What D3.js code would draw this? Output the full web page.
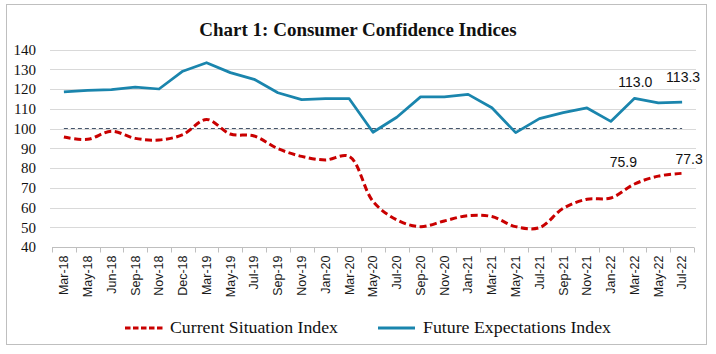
<!DOCTYPE html>
<html>
<head>
<meta charset="utf-8">
<script src="https://cdn.jsdelivr.net/npm/d3@7"></script>
<style>
  body { margin: 0; background: #fff; }
</style>
</head>
<body>
<div id="chart"></div>
<script>
//
// Chart data
//
const categories = ['Mar-18', 'May-18', 'Jun-18', 'Sep-18', 'Nov-18', 'Dec-18', 'Mar-19', 'May-19', 'Jul-19',
  'Sep-19', 'Nov-19', 'Jan-20', 'Mar-20', 'May-20', 'Jul-20', 'Sep-20', 'Nov-20', 'Jan-21', 'Mar-21',
  'May-21', 'Jul-21', 'Sep-21', 'Nov-21', 'Jan-22', 'Mar-22', 'May-22', 'Jul-22']
const currentSituation = [95.7, 94.5, 98.6, 95.0, 94.2, 96.9, 104.6, 97.2, 96.2, 89.8, 85.9, 84.1, 85.9,
  63.1, 53.7, 50.3, 53.2, 55.9, 55.4, 50.3, 49.8, 59.6, 64.2, 64.8, 71.9, 75.9, 77.3]
const futureExpectations = [118.6, 119.3, 119.7, 121.0, 120.0, 129.0, 133.3, 128.3, 124.9, 118.1, 114.6, 115.1, 115.1,
  98.1, 105.7, 116.0, 116.0, 117.3, 110.5, 97.9, 105.0, 108.0, 110.4, 103.6, 115.3, 113.0, 113.3]
const yTicks = [40, 50, 60, 70, 80, 90, 100, 110, 120, 130, 140]
const referenceLevel = 100
// labelled points and where their label sits relative to the point
const labelledPoints = [
  { series: 'fei', cat: 'May-22', dx: -23, dy: -16 },
  { series: 'fei', cat: 'Jul-22', dx: 1, dy: -20.5 },
  { series: 'csi', cat: 'May-22', dx: -35, dy: -9.5 },
  { series: 'csi', cat: 'Jul-22', dx: 7, dy: -9 }
]

const width = 716
const height = 354
const serif = "'Liberation Serif', 'DejaVu Serif', serif"
const sans = "'Liberation Sans', Arial, sans-serif"
const red = '#c90000'
const blue = '#1a85ad'

const svg = d3.select('#chart')
  .append('svg')
  .attr('width', width)
  .attr('height', height)

// chart border
svg.append('rect')
  .attr('x', 6.5).attr('y', 4.5)
  .attr('width', 700).attr('height', 340)
  .attr('fill', '#fff')
  .attr('stroke', '#bfbfbf')

// title
svg.append('text')
  .attr('x', 358).attr('y', 36)
  .attr('text-anchor', 'middle')
  .style('font-family', serif)
  .style('font-weight', 'bold')
  .style('font-size', '19px')
  .attr('fill', '#111')
  .text('Chart 1: Consumer Confidence Indices')

//
// scales
//
const x = d3.scaleBand().domain(categories).range([52, 694])
const y = d3.scaleLinear().domain([40, 140]).range([247, 49.5])
const cx = d => x(d) + x.bandwidth() / 2

// gridlines
svg.append('g')
  .selectAll('line')
  .data(yTicks.filter(t => t > 40))
  .enter().append('line')
  .attr('x1', 50).attr('x2', 696)
  .attr('y1', d => Math.round(y(d)) + 0.5)
  .attr('y2', d => Math.round(y(d)) + 0.5)
  .attr('stroke', '#d9d9d9')

// y labels
svg.append('g')
  .selectAll('text')
  .data(yTicks)
  .enter().append('text')
  .attr('x', 36)
  .attr('y', d => y(d))
  .attr('dy', '0.35em')
  .attr('text-anchor', 'end')
  .style('font-family', serif)
  .style('font-size', '15px')
  .attr('fill', '#111')
  .text(d => d)

// x axis
const xAxis = svg.append('g')
  .attr('transform', 'translate(0,' + (Math.round(y(40)) + 0.5) + ')')
xAxis.append('line')
  .attr('x1', 52).attr('x2', 694)
  .attr('stroke', '#bfbfbf')
xAxis.selectAll('line.tick')
  .data(categories.map(c => x(c)).concat([x.range()[1]]))
  .enter().append('line')
  .attr('class', 'tick')
  .attr('x1', d => Math.round(d) + 0.5).attr('x2', d => Math.round(d) + 0.5)
  .attr('y1', 0).attr('y2', 5)
  .attr('stroke', '#bfbfbf')
xAxis.selectAll('text')
  .data(categories)
  .enter().append('text')
  .attr('transform', d => 'translate(' + cx(d) + ',8)rotate(-90)')
  .attr('text-anchor', 'end')
  .attr('dy', '0.35em')
  .style('font-family', sans)
  .style('font-size', '12.5px')
  .attr('fill', '#1a1a1a')
  .text(d => d)

// reference line at 100
svg.append('line')
  .attr('x1', cx(categories[0]))
  .attr('x2', cx(categories[categories.length - 1]))
  .attr('y1', y(referenceLevel)).attr('y2', y(referenceLevel))
  .attr('stroke', '#44546a')
  .attr('stroke-width', 1)
  .attr('stroke-dasharray', '4,3')

//
// series lines
//
const feiLine = d3.line()
  .x((d, i) => cx(categories[i]))
  .y(d => y(d))
const csiLine = d3.line()
  .x((d, i) => cx(categories[i]))
  .y(d => y(d))
  .curve(d3.curveCatmullRom.alpha(0.5))

svg.append('path')
  .datum(futureExpectations)
  .attr('d', feiLine)
  .attr('fill', 'none')
  .attr('stroke', blue)
  .attr('stroke-width', 2.75)
  .attr('stroke-linejoin', 'round')

svg.append('path')
  .datum(currentSituation)
  .attr('d', csiLine)
  .attr('fill', 'none')
  .attr('stroke', red)
  .attr('stroke-width', 3)
  .attr('stroke-dasharray', '7,3.5')

// data labels
svg.append('g')
  .selectAll('text')
  .data(labelledPoints)
  .enter().append('text')
  .attr('x', d => cx(d.cat) + d.dx)
  .attr('y', d => {
    const i = categories.indexOf(d.cat)
    const v = d.series === 'fei' ? futureExpectations[i] : currentSituation[i]
    return y(v) + d.dy
  })
  .attr('text-anchor', 'middle')
  .style('font-family', sans)
  .style('font-size', '14px')
  .attr('fill', '#111')
  .text(d => {
    const i = categories.indexOf(d.cat)
    const v = d.series === 'fei' ? futureExpectations[i] : currentSituation[i]
    return v.toFixed(1)
  })

//
// legend
//
const legend = svg.append('g')
legend.append('line')
  .attr('x1', 125).attr('x2', 165)
  .attr('y1', 328).attr('y2', 328)
  .attr('stroke', red)
  .attr('stroke-width', 3)
  .attr('stroke-dasharray', '5.5,2.5')
legend.append('text')
  .attr('x', 170).attr('y', 333)
  .attr('textLength', 168)
  .attr('lengthAdjust', 'spacingAndGlyphs')
  .style('font-family', serif)
  .style('font-size', '16.5px')
  .attr('fill', '#111')
  .text('Current Situation Index')
legend.append('line')
  .attr('x1', 378).attr('x2', 415)
  .attr('y1', 328).attr('y2', 328)
  .attr('stroke', blue)
  .attr('stroke-width', 3)
legend.append('text')
  .attr('x', 423).attr('y', 333)
  .attr('textLength', 188)
  .attr('lengthAdjust', 'spacingAndGlyphs')
  .style('font-family', serif)
  .style('font-size', '16.5px')
  .attr('fill', '#111')
  .text('Future Expectations Index')
</script>
</body>
</html>
